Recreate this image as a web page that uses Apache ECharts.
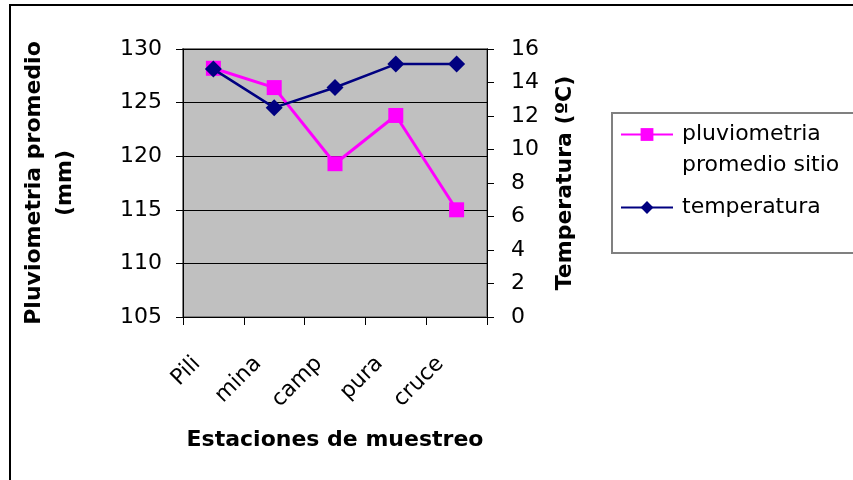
<!DOCTYPE html>
<html>
<head>
<meta charset="utf-8">
<script src="https://cdn.jsdelivr.net/npm/echarts@6/dist/echarts.min.js"></script>
<style>
  html, body { margin: 0; padding: 0; background: #fff; }
  #chart { width: 853px; height: 480px; }
</style>
</head>
<body>
<div id="chart"></div>
<script>
const estaciones = ['Pili', 'mina', 'camp', 'pura', 'cruce']
const pluviometria = [128.2, 126.4, 119.3, 123.8, 115.0]
const temperatura = [14.8, 12.5, 13.7, 15.1, 15.1]

const font = 'DejaVu Sans, Liberation Sans, Arial, sans-serif'

const chart = echarts.init(document.getElementById('chart'))

const option = {
  backgroundColor: '#ffffff',
  animation: false,
  textStyle: { fontFamily: font },
  grid: {
    left: 183, right: 366, top: 49, bottom: 163,
    show: true,
    backgroundColor: '#c0c0c0',
    borderColor: '#808080',
    borderWidth: 2
  },
  graphic: [
    {
      type: 'rect',
      shape: { x: 10, y: 5, width: 900, height: 520 },
      style: { fill: 'none', stroke: '#000', lineWidth: 2 },
      silent: true
    },
    {
      type: 'rect',
      shape: { x: 612, y: 113, width: 300, height: 140 },
      style: { fill: 'none', stroke: '#808080', lineWidth: 2 },
      silent: true
    }
  ],
  legend: {
    orient: 'vertical',
    left: 615,
    top: 83,
    itemWidth: 52,
    itemHeight: 16,
    itemGap: 11,
    data: ['pluviometria promedio sitio', 'temperatura'],
    // blank first line keeps the marker level with "pluviometria"
    formatter: function (name) {
      return name === 'pluviometria promedio sitio' ? ' \npluviometria\npromedio sitio' : name
    },
    textStyle: { fontSize: 22, color: '#000', lineHeight: 31, fontFamily: font, padding: [0, 0, 0, 4] }
  },
  xAxis: {
    type: 'category',
    data: estaciones,
    boundaryGap: true,
    name: 'Estaciones de muestreo',
    nameLocation: 'middle',
    nameGap: 112,
    nameTextStyle: { fontSize: 22, fontWeight: 'bold', color: '#000' },
    axisLine: { lineStyle: { color: '#000', width: 1 } },
    axisTick: { show: true, length: 8, lineStyle: { color: '#000' } },
    axisLabel: { rotate: 45, fontSize: 22, color: '#000', margin: 27, padding: [0, 23, 0, 0] }
  },
  yAxis: [
    {
      type: 'value',
      min: 105,
      max: 130,
      interval: 5,
      name: 'Pluviometria promedio\n(mm)',
      nameLocation: 'middle',
      nameRotate: 90,
      nameGap: 102,
      nameTextStyle: { fontSize: 22, fontWeight: 'bold', color: '#000', lineHeight: 31 },
      axisLine: { show: true, lineStyle: { color: '#000' } },
      axisTick: { show: true, length: 7, lineStyle: { color: '#000' } },
      axisLabel: { fontSize: 22, color: '#000', margin: 21 },
      splitLine: { show: true, lineStyle: { color: '#000', width: 1 } }
    },
    {
      type: 'value',
      min: 0,
      max: 16,
      interval: 2,
      name: 'Temperatura (ºC)',
      nameLocation: 'middle',
      nameRotate: 90,
      nameGap: 67,
      nameTextStyle: { fontSize: 22, fontWeight: 'bold', color: '#000' },
      axisLine: { show: true, lineStyle: { color: '#000' } },
      axisTick: { show: true, length: 7, lineStyle: { color: '#000' } },
      axisLabel: { fontSize: 22, color: '#000', margin: 24 },
      splitLine: { show: false }
    }
  ],
  series: [
    {
      name: 'pluviometria promedio sitio',
      type: 'line',
      yAxisIndex: 0,
      data: pluviometria,
      symbol: 'rect',
      symbolSize: 15,
      color: '#ff00ff',
      lineStyle: { color: '#ff00ff', width: 3 },
      itemStyle: { color: '#ff00ff' },
      z: 2
    },
    {
      name: 'temperatura',
      type: 'line',
      yAxisIndex: 1,
      data: temperatura,
      symbol: 'diamond',
      symbolSize: 17,
      color: '#000080',
      lineStyle: { color: '#000080', width: 2.5 },
      itemStyle: { color: '#000080' },
      z: 3
    }
  ]
}

chart.setOption(option)
</script>
</body>
</html>
